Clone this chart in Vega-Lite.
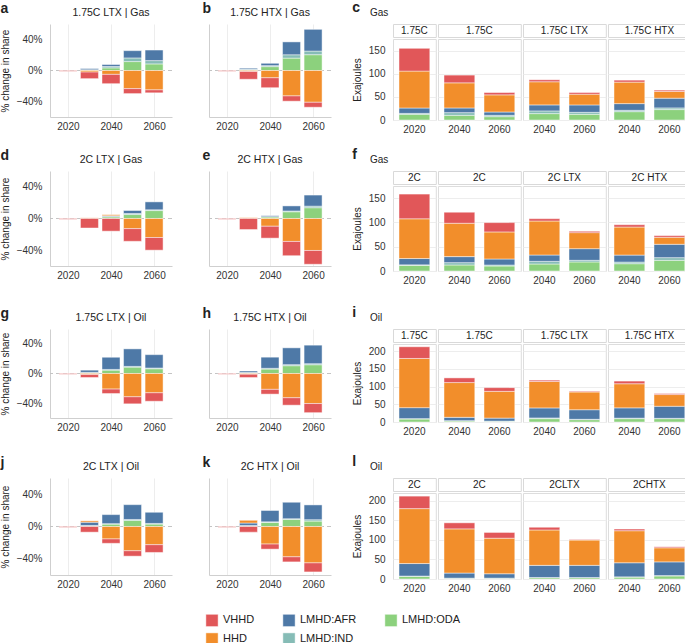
{
"$schema": "https://vega.github.io/schema/vega-lite/v6.json",
"padding": {"left": 0, "top": 0, "right": 0, "bottom": 0},
"config": {
  "font": "Liberation Sans",
  "view": {"stroke": null},
  "axis": {"labelFontSize": 10, "titleFontSize": 10, "titleFontWeight": "normal", "labelColor": "#333", "titleColor": "#222", "gridColor": "#ededed", "domainColor": "#cfcfcf", "ticks": false, "labelPadding": 4},
  "title": {"fontSize": 10.5, "fontWeight": "normal", "color": "#222"},
  "legend": {"orient": "none", "legendX": 155, "legendY": 589, "columns": 3, "symbolType": "square", "symbolSize": 150, "symbolStrokeWidth": 0, "labelFontSize": 11, "labelColor": "#222", "columnPadding": 25, "rowPadding": 1, "padding": 0, "title": null},
  "bar": {"stroke": "white", "strokeOpacity": 0.45, "strokeWidth": 1}
},
"datasets": {
"share": [
{"p":"a","yr":2020,"t":"VHHD","v":-1},
{"p":"a","yr":2030,"t":"LMHD:ODA","v":0.5},{"p":"a","yr":2030,"t":"LMHD:IND","v":0.5},{"p":"a","yr":2030,"t":"LMHD:AFR","v":1.5},{"p":"a","yr":2030,"t":"HHD","v":-2},{"p":"a","yr":2030,"t":"VHHD","v":-8.5},
{"p":"a","yr":2040,"t":"LMHD:ODA","v":3.4},{"p":"a","yr":2040,"t":"LMHD:IND","v":1.8},{"p":"a","yr":2040,"t":"LMHD:AFR","v":2.5},{"p":"a","yr":2040,"t":"HHD","v":-5},{"p":"a","yr":2040,"t":"VHHD","v":-12},
{"p":"a","yr":2050,"t":"LMHD:ODA","v":11.5},{"p":"a","yr":2050,"t":"LMHD:IND","v":4.7},{"p":"a","yr":2050,"t":"LMHD:AFR","v":9.4},{"p":"a","yr":2050,"t":"HHD","v":-23.4},{"p":"a","yr":2050,"t":"VHHD","v":-6.4},
{"p":"a","yr":2060,"t":"LMHD:ODA","v":8.5},{"p":"a","yr":2060,"t":"LMHD:IND","v":4.3},{"p":"a","yr":2060,"t":"LMHD:AFR","v":13.6},{"p":"a","yr":2060,"t":"HHD","v":-25},{"p":"a","yr":2060,"t":"VHHD","v":-3.8},
{"p":"b","yr":2020,"t":"VHHD","v":-1},
{"p":"b","yr":2030,"t":"LMHD:ODA","v":1},{"p":"b","yr":2030,"t":"LMHD:IND","v":0.5},{"p":"b","yr":2030,"t":"LMHD:AFR","v":1.5},{"p":"b","yr":2030,"t":"HHD","v":-1.3},{"p":"b","yr":2030,"t":"VHHD","v":-10},
{"p":"b","yr":2040,"t":"LMHD:ODA","v":5},{"p":"b","yr":2040,"t":"LMHD:IND","v":1.3},{"p":"b","yr":2040,"t":"LMHD:AFR","v":3},{"p":"b","yr":2040,"t":"HHD","v":-9.4},{"p":"b","yr":2040,"t":"VHHD","v":-12.8},
{"p":"b","yr":2050,"t":"LMHD:ODA","v":16},{"p":"b","yr":2050,"t":"LMHD:IND","v":4.3},{"p":"b","yr":2050,"t":"LMHD:AFR","v":16.6},{"p":"b","yr":2050,"t":"HHD","v":-32.8},{"p":"b","yr":2050,"t":"VHHD","v":-6.8},
{"p":"b","yr":2060,"t":"LMHD:ODA","v":20.4},{"p":"b","yr":2060,"t":"LMHD:IND","v":4.7},{"p":"b","yr":2060,"t":"LMHD:AFR","v":28},{"p":"b","yr":2060,"t":"HHD","v":-41},{"p":"b","yr":2060,"t":"VHHD","v":-6.4},
{"p":"d","yr":2020,"t":"VHHD","v":-1},
{"p":"d","yr":2030,"t":"HHD","v":0.8},{"p":"d","yr":2030,"t":"VHHD","v":-12},
{"p":"d","yr":2040,"t":"LMHD:ODA","v":2},{"p":"d","yr":2040,"t":"LMHD:IND","v":0.5},{"p":"d","yr":2040,"t":"LMHD:AFR","v":1},{"p":"d","yr":2040,"t":"HHD","v":1.3},{"p":"d","yr":2040,"t":"VHHD","v":-16},
{"p":"d","yr":2050,"t":"LMHD:ODA","v":5},{"p":"d","yr":2050,"t":"LMHD:IND","v":1.3},{"p":"d","yr":2050,"t":"LMHD:AFR","v":3.8},{"p":"d","yr":2050,"t":"HHD","v":-12.8},{"p":"d","yr":2050,"t":"VHHD","v":-16},
{"p":"d","yr":2060,"t":"LMHD:ODA","v":10},{"p":"d","yr":2060,"t":"LMHD:IND","v":1},{"p":"d","yr":2060,"t":"LMHD:AFR","v":10},{"p":"d","yr":2060,"t":"HHD","v":-24},{"p":"d","yr":2060,"t":"VHHD","v":-16},
{"p":"e","yr":2020,"t":"VHHD","v":-1},
{"p":"e","yr":2030,"t":"HHD","v":0.8},{"p":"e","yr":2030,"t":"VHHD","v":-14},
{"p":"e","yr":2040,"t":"LMHD:ODA","v":2},{"p":"e","yr":2040,"t":"LMHD:IND","v":0.3},{"p":"e","yr":2040,"t":"LMHD:AFR","v":1.2},{"p":"e","yr":2040,"t":"HHD","v":-9.8},{"p":"e","yr":2040,"t":"VHHD","v":-15},
{"p":"e","yr":2050,"t":"LMHD:ODA","v":8.5},{"p":"e","yr":2050,"t":"LMHD:IND","v":1},{"p":"e","yr":2050,"t":"LMHD:AFR","v":6.4},{"p":"e","yr":2050,"t":"HHD","v":-29},{"p":"e","yr":2050,"t":"VHHD","v":-18},
{"p":"e","yr":2060,"t":"LMHD:ODA","v":13.6},{"p":"e","yr":2060,"t":"LMHD:IND","v":2},{"p":"e","yr":2060,"t":"LMHD:AFR","v":14},{"p":"e","yr":2060,"t":"HHD","v":-40.4},{"p":"e","yr":2060,"t":"VHHD","v":-17.4},
{"p":"g","yr":2020,"t":"VHHD","v":-1},
{"p":"g","yr":2030,"t":"LMHD:ODA","v":1},{"p":"g","yr":2030,"t":"LMHD:IND","v":0.5},{"p":"g","yr":2030,"t":"LMHD:AFR","v":3},{"p":"g","yr":2030,"t":"HHD","v":-1.4},{"p":"g","yr":2030,"t":"VHHD","v":-4},
{"p":"g","yr":2040,"t":"LMHD:ODA","v":4.5},{"p":"g","yr":2040,"t":"LMHD:IND","v":1},{"p":"g","yr":2040,"t":"LMHD:AFR","v":16.4},{"p":"g","yr":2040,"t":"HHD","v":-21},{"p":"g","yr":2040,"t":"VHHD","v":-6},
{"p":"g","yr":2050,"t":"LMHD:ODA","v":8.6},{"p":"g","yr":2050,"t":"LMHD:IND","v":1},{"p":"g","yr":2050,"t":"LMHD:AFR","v":23.6},{"p":"g","yr":2050,"t":"HHD","v":-31.4},{"p":"g","yr":2050,"t":"VHHD","v":-9.5},
{"p":"g","yr":2060,"t":"LMHD:ODA","v":6.4},{"p":"g","yr":2060,"t":"LMHD:IND","v":1},{"p":"g","yr":2060,"t":"LMHD:AFR","v":18},{"p":"g","yr":2060,"t":"HHD","v":-26},{"p":"g","yr":2060,"t":"VHHD","v":-11.4},
{"p":"h","yr":2020,"t":"VHHD","v":-1},
{"p":"h","yr":2030,"t":"LMHD:ODA","v":1},{"p":"h","yr":2030,"t":"LMHD:IND","v":0.3},{"p":"h","yr":2030,"t":"LMHD:AFR","v":2},{"p":"h","yr":2030,"t":"HHD","v":-1},{"p":"h","yr":2030,"t":"VHHD","v":-4.5},
{"p":"h","yr":2040,"t":"LMHD:ODA","v":6},{"p":"h","yr":2040,"t":"LMHD:IND","v":1},{"p":"h","yr":2040,"t":"LMHD:AFR","v":15},{"p":"h","yr":2040,"t":"HHD","v":-21.4},{"p":"h","yr":2040,"t":"VHHD","v":-6.4},
{"p":"h","yr":2050,"t":"LMHD:ODA","v":10.5},{"p":"h","yr":2050,"t":"LMHD:IND","v":1.4},{"p":"h","yr":2050,"t":"LMHD:AFR","v":22.7},{"p":"h","yr":2050,"t":"HHD","v":-32.7},{"p":"h","yr":2050,"t":"VHHD","v":-10},
{"p":"h","yr":2060,"t":"LMHD:ODA","v":11.8},{"p":"h","yr":2060,"t":"LMHD:IND","v":1.4},{"p":"h","yr":2060,"t":"LMHD:AFR","v":25},{"p":"h","yr":2060,"t":"HHD","v":-40.5},{"p":"h","yr":2060,"t":"VHHD","v":-12.3},
{"p":"j","yr":2020,"t":"VHHD","v":-1},
{"p":"j","yr":2030,"t":"LMHD:ODA","v":1},{"p":"j","yr":2030,"t":"LMHD:IND","v":0.3},{"p":"j","yr":2030,"t":"LMHD:AFR","v":4},{"p":"j","yr":2030,"t":"HHD","v":1.7},{"p":"j","yr":2030,"t":"VHHD","v":-7},
{"p":"j","yr":2040,"t":"LMHD:ODA","v":3},{"p":"j","yr":2040,"t":"LMHD:IND","v":0.5},{"p":"j","yr":2040,"t":"LMHD:AFR","v":11.2},{"p":"j","yr":2040,"t":"HHD","v":-15.4},{"p":"j","yr":2040,"t":"VHHD","v":-5.4},
{"p":"j","yr":2050,"t":"LMHD:ODA","v":7.5},{"p":"j","yr":2050,"t":"LMHD:IND","v":1.2},{"p":"j","yr":2050,"t":"LMHD:AFR","v":18.3},{"p":"j","yr":2050,"t":"HHD","v":-30},{"p":"j","yr":2050,"t":"VHHD","v":-6.7},
{"p":"j","yr":2060,"t":"LMHD:ODA","v":3},{"p":"j","yr":2060,"t":"LMHD:IND","v":0.8},{"p":"j","yr":2060,"t":"LMHD:AFR","v":13.8},{"p":"j","yr":2060,"t":"HHD","v":-22.5},{"p":"j","yr":2060,"t":"VHHD","v":-9.6},
{"p":"k","yr":2020,"t":"VHHD","v":-1},
{"p":"k","yr":2030,"t":"LMHD:ODA","v":1},{"p":"k","yr":2030,"t":"LMHD:IND","v":0.3},{"p":"k","yr":2030,"t":"LMHD:AFR","v":3},{"p":"k","yr":2030,"t":"HHD","v":3.3},{"p":"k","yr":2030,"t":"VHHD","v":-7},
{"p":"k","yr":2040,"t":"LMHD:ODA","v":5},{"p":"k","yr":2040,"t":"LMHD:IND","v":0.8},{"p":"k","yr":2040,"t":"LMHD:AFR","v":14},{"p":"k","yr":2040,"t":"HHD","v":-21.7},{"p":"k","yr":2040,"t":"VHHD","v":-6.3},
{"p":"k","yr":2050,"t":"LMHD:ODA","v":8.8},{"p":"k","yr":2050,"t":"LMHD:IND","v":0.8},{"p":"k","yr":2050,"t":"LMHD:AFR","v":20.4},{"p":"k","yr":2050,"t":"HHD","v":-37.5},{"p":"k","yr":2050,"t":"VHHD","v":-6.3},
{"p":"k","yr":2060,"t":"LMHD:ODA","v":6.7},{"p":"k","yr":2060,"t":"LMHD:IND","v":1.7},{"p":"k","yr":2060,"t":"LMHD:AFR","v":18.3},{"p":"k","yr":2060,"t":"HHD","v":-45},{"p":"k","yr":2060,"t":"VHHD","v":-11.2}
],
"energy": [
{"p":"c","s":"1.75C_2020","yr":"2020","t":"LMHD:ODA","v":12.3},{"p":"c","s":"1.75C_2020","yr":"2020","t":"LMHD:IND","v":2},{"p":"c","s":"1.75C_2020","yr":"2020","t":"LMHD:AFR","v":11.6},{"p":"c","s":"1.75C_2020","yr":"2020","t":"HHD","v":79.7},{"p":"c","s":"1.75C_2020","yr":"2020","t":"VHHD","v":49.3},
{"p":"c","s":"1.75C","yr":"2040","t":"LMHD:ODA","v":10.1},{"p":"c","s":"1.75C","yr":"2040","t":"LMHD:IND","v":5.8},{"p":"c","s":"1.75C","yr":"2040","t":"LMHD:AFR","v":10.1},{"p":"c","s":"1.75C","yr":"2040","t":"HHD","v":54.3},{"p":"c","s":"1.75C","yr":"2040","t":"VHHD","v":16.7},
{"p":"c","s":"1.75C","yr":"2060","t":"LMHD:ODA","v":7.2},{"p":"c","s":"1.75C","yr":"2060","t":"LMHD:IND","v":2.9},{"p":"c","s":"1.75C","yr":"2060","t":"LMHD:AFR","v":7.2},{"p":"c","s":"1.75C","yr":"2060","t":"HHD","v":37},{"p":"c","s":"1.75C","yr":"2060","t":"VHHD","v":5},
{"p":"c","s":"1.75C LTX","yr":"2040","t":"LMHD:ODA","v":13.8},{"p":"c","s":"1.75C LTX","yr":"2040","t":"LMHD:IND","v":5.8},{"p":"c","s":"1.75C LTX","yr":"2040","t":"LMHD:AFR","v":13},{"p":"c","s":"1.75C LTX","yr":"2040","t":"HHD","v":50},{"p":"c","s":"1.75C LTX","yr":"2040","t":"VHHD","v":4.3},
{"p":"c","s":"1.75C LTX","yr":"2060","t":"LMHD:ODA","v":12.3},{"p":"c","s":"1.75C LTX","yr":"2060","t":"LMHD:IND","v":4.3},{"p":"c","s":"1.75C LTX","yr":"2060","t":"LMHD:AFR","v":16},{"p":"c","s":"1.75C LTX","yr":"2060","t":"HHD","v":23.2},{"p":"c","s":"1.75C LTX","yr":"2060","t":"VHHD","v":3.6},
{"p":"c","s":"1.75C HTX","yr":"2040","t":"LMHD:ODA","v":18},{"p":"c","s":"1.75C HTX","yr":"2040","t":"LMHD:IND","v":2.9},{"p":"c","s":"1.75C HTX","yr":"2040","t":"LMHD:AFR","v":14.5},{"p":"c","s":"1.75C HTX","yr":"2040","t":"HHD","v":46.4},{"p":"c","s":"1.75C HTX","yr":"2040","t":"VHHD","v":4.3},
{"p":"c","s":"1.75C HTX","yr":"2060","t":"LMHD:ODA","v":22.5},{"p":"c","s":"1.75C HTX","yr":"2060","t":"LMHD:IND","v":3.6},{"p":"c","s":"1.75C HTX","yr":"2060","t":"LMHD:AFR","v":21},{"p":"c","s":"1.75C HTX","yr":"2060","t":"HHD","v":14.5},{"p":"c","s":"1.75C HTX","yr":"2060","t":"VHHD","v":2.9},
{"p":"f","s":"2C_2020","yr":"2020","t":"LMHD:ODA","v":11.7},{"p":"f","s":"2C_2020","yr":"2020","t":"LMHD:IND","v":1},{"p":"f","s":"2C_2020","yr":"2020","t":"LMHD:AFR","v":13},{"p":"f","s":"2C_2020","yr":"2020","t":"HHD","v":81.8},{"p":"f","s":"2C_2020","yr":"2020","t":"VHHD","v":50.9},
{"p":"f","s":"2C","yr":"2040","t":"LMHD:ODA","v":12.4},{"p":"f","s":"2C","yr":"2040","t":"LMHD:IND","v":4.8},{"p":"f","s":"2C","yr":"2040","t":"LMHD:AFR","v":12.4},{"p":"f","s":"2C","yr":"2040","t":"HHD","v":68.7},{"p":"f","s":"2C","yr":"2040","t":"VHHD","v":22.7},
{"p":"f","s":"2C","yr":"2060","t":"LMHD:ODA","v":10.3},{"p":"f","s":"2C","yr":"2060","t":"LMHD:IND","v":2},{"p":"f","s":"2C","yr":"2060","t":"LMHD:AFR","v":12.4},{"p":"f","s":"2C","yr":"2060","t":"HHD","v":55.7},{"p":"f","s":"2C","yr":"2060","t":"VHHD","v":19.2},
{"p":"f","s":"2C LTX","yr":"2040","t":"LMHD:ODA","v":14.4},{"p":"f","s":"2C LTX","yr":"2040","t":"LMHD:IND","v":5.5},{"p":"f","s":"2C LTX","yr":"2040","t":"LMHD:AFR","v":13},{"p":"f","s":"2C LTX","yr":"2040","t":"HHD","v":70},{"p":"f","s":"2C LTX","yr":"2040","t":"VHHD","v":4.8},
{"p":"f","s":"2C LTX","yr":"2060","t":"LMHD:ODA","v":18.6},{"p":"f","s":"2C LTX","yr":"2060","t":"LMHD:IND","v":3.4},{"p":"f","s":"2C LTX","yr":"2060","t":"LMHD:AFR","v":24},{"p":"f","s":"2C LTX","yr":"2060","t":"HHD","v":33},{"p":"f","s":"2C LTX","yr":"2060","t":"VHHD","v":2.7},
{"p":"f","s":"2C HTX","yr":"2040","t":"LMHD:ODA","v":15},{"p":"f","s":"2C HTX","yr":"2040","t":"LMHD:IND","v":3.4},{"p":"f","s":"2C HTX","yr":"2040","t":"LMHD:AFR","v":14.4},{"p":"f","s":"2C HTX","yr":"2040","t":"HHD","v":57.7},{"p":"f","s":"2C HTX","yr":"2040","t":"VHHD","v":4.8},
{"p":"f","s":"2C HTX","yr":"2060","t":"LMHD:ODA","v":22},{"p":"f","s":"2C HTX","yr":"2060","t":"LMHD:IND","v":5.5},{"p":"f","s":"2C HTX","yr":"2060","t":"LMHD:AFR","v":27.5},{"p":"f","s":"2C HTX","yr":"2060","t":"HHD","v":14.4},{"p":"f","s":"2C HTX","yr":"2060","t":"VHHD","v":3.4},
{"p":"i","s":"1.75C_2020","yr":"2020","t":"LMHD:ODA","v":8.5},{"p":"i","s":"1.75C_2020","yr":"2020","t":"LMHD:IND","v":1},{"p":"i","s":"1.75C_2020","yr":"2020","t":"LMHD:AFR","v":31},{"p":"i","s":"1.75C_2020","yr":"2020","t":"HHD","v":138.7},{"p":"i","s":"1.75C_2020","yr":"2020","t":"VHHD","v":33},
{"p":"i","s":"1.75C","yr":"2040","t":"LMHD:ODA","v":2.8},{"p":"i","s":"1.75C","yr":"2040","t":"LMHD:IND","v":1},{"p":"i","s":"1.75C","yr":"2040","t":"LMHD:AFR","v":9.4},{"p":"i","s":"1.75C","yr":"2040","t":"HHD","v":98},{"p":"i","s":"1.75C","yr":"2040","t":"VHHD","v":13.2},
{"p":"i","s":"1.75C","yr":"2060","t":"LMHD:ODA","v":2},{"p":"i","s":"1.75C","yr":"2060","t":"LMHD:IND","v":0.5},{"p":"i","s":"1.75C","yr":"2060","t":"LMHD:AFR","v":8.5},{"p":"i","s":"1.75C","yr":"2060","t":"HHD","v":75.5},{"p":"i","s":"1.75C","yr":"2060","t":"VHHD","v":10.4},
{"p":"i","s":"1.75C LTX","yr":"2040","t":"LMHD:ODA","v":9.4},{"p":"i","s":"1.75C LTX","yr":"2040","t":"LMHD:IND","v":2},{"p":"i","s":"1.75C LTX","yr":"2040","t":"LMHD:AFR","v":28.3},{"p":"i","s":"1.75C LTX","yr":"2040","t":"HHD","v":74.5},{"p":"i","s":"1.75C LTX","yr":"2040","t":"VHHD","v":3.8},
{"p":"i","s":"1.75C LTX","yr":"2060","t":"LMHD:ODA","v":6.6},{"p":"i","s":"1.75C LTX","yr":"2060","t":"LMHD:IND","v":1},{"p":"i","s":"1.75C LTX","yr":"2060","t":"LMHD:AFR","v":27},{"p":"i","s":"1.75C LTX","yr":"2060","t":"HHD","v":50},{"p":"i","s":"1.75C LTX","yr":"2060","t":"VHHD","v":1.9},
{"p":"i","s":"1.75C HTX","yr":"2040","t":"LMHD:ODA","v":9.4},{"p":"i","s":"1.75C HTX","yr":"2040","t":"LMHD:IND","v":1.5},{"p":"i","s":"1.75C HTX","yr":"2040","t":"LMHD:AFR","v":29},{"p":"i","s":"1.75C HTX","yr":"2040","t":"HHD","v":68},{"p":"i","s":"1.75C HTX","yr":"2040","t":"VHHD","v":7.5},
{"p":"i","s":"1.75C HTX","yr":"2060","t":"LMHD:ODA","v":9.4},{"p":"i","s":"1.75C HTX","yr":"2060","t":"LMHD:IND","v":1},{"p":"i","s":"1.75C HTX","yr":"2060","t":"LMHD:AFR","v":34},{"p":"i","s":"1.75C HTX","yr":"2060","t":"HHD","v":33},{"p":"i","s":"1.75C HTX","yr":"2060","t":"VHHD","v":2.8},
{"p":"l","s":"2C_2020","yr":"2020","t":"LMHD:ODA","v":7},{"p":"l","s":"2C_2020","yr":"2020","t":"LMHD:IND","v":0.5},{"p":"l","s":"2C_2020","yr":"2020","t":"LMHD:AFR","v":32},{"p":"l","s":"2C_2020","yr":"2020","t":"HHD","v":140.5},{"p":"l","s":"2C_2020","yr":"2020","t":"VHHD","v":32},
{"p":"l","s":"2C","yr":"2040","t":"LMHD:ODA","v":1.7},{"p":"l","s":"2C","yr":"2040","t":"LMHD:IND","v":0.5},{"p":"l","s":"2C","yr":"2040","t":"LMHD:AFR","v":13},{"p":"l","s":"2C","yr":"2040","t":"HHD","v":113},{"p":"l","s":"2C","yr":"2040","t":"VHHD","v":15.5},
{"p":"l","s":"2C","yr":"2060","t":"LMHD:ODA","v":1.7},{"p":"l","s":"2C","yr":"2060","t":"LMHD:IND","v":0.5},{"p":"l","s":"2C","yr":"2060","t":"LMHD:AFR","v":11.2},{"p":"l","s":"2C","yr":"2060","t":"HHD","v":91},{"p":"l","s":"2C","yr":"2060","t":"VHHD","v":14.7},
{"p":"l","s":"2CLTX","yr":"2040","t":"LMHD:ODA","v":3.4},{"p":"l","s":"2CLTX","yr":"2040","t":"LMHD:IND","v":0.5},{"p":"l","s":"2CLTX","yr":"2040","t":"LMHD:AFR","v":31},{"p":"l","s":"2CLTX","yr":"2040","t":"HHD","v":90.5},{"p":"l","s":"2CLTX","yr":"2040","t":"VHHD","v":7},
{"p":"l","s":"2CLTX","yr":"2060","t":"LMHD:ODA","v":3.4},{"p":"l","s":"2CLTX","yr":"2060","t":"LMHD:IND","v":0.5},{"p":"l","s":"2CLTX","yr":"2060","t":"LMHD:AFR","v":31},{"p":"l","s":"2CLTX","yr":"2060","t":"HHD","v":64.7},{"p":"l","s":"2CLTX","yr":"2060","t":"VHHD","v":1.7},
{"p":"l","s":"2CHTX","yr":"2040","t":"LMHD:ODA","v":5},{"p":"l","s":"2CHTX","yr":"2040","t":"LMHD:IND","v":0.5},{"p":"l","s":"2CHTX","yr":"2040","t":"LMHD:AFR","v":36},{"p":"l","s":"2CHTX","yr":"2040","t":"HHD","v":82},{"p":"l","s":"2CHTX","yr":"2040","t":"VHHD","v":4.3},
{"p":"l","s":"2CHTX","yr":"2060","t":"LMHD:ODA","v":7.8},{"p":"l","s":"2CHTX","yr":"2060","t":"LMHD:IND","v":1},{"p":"l","s":"2CHTX","yr":"2060","t":"LMHD:AFR","v":35},{"p":"l","s":"2CHTX","yr":"2060","t":"HHD","v":36},{"p":"l","s":"2CHTX","yr":"2060","t":"VHHD","v":2.6}
]
},
"spacing": 19,
"resolve": {"scale": {"color": "shared"}},
"vconcat": [
{"spacing": 12, "vconcat": [
{"spacing": 20, "hconcat": [
 {"spacing": 29, "hconcat": [
 {"data": {"name": "share"}, "transform": [{"filter": "datum.p == 'a'"}, {"calculate": "indexof(['LMHD:ODA','LMHD:IND','LMHD:AFR','HHD','VHHD'], datum.t)", "as": "o"}],
  "width": 122, "height": 93, "title": {"text": "1.75C LTX | Gas", "frame": "group", "anchor": "middle", "offset": -17},
  "layer": [
   {"mark": {"type": "rule", "strokeDash": [4, 3], "color": "#c4c4c4"}, "encoding": {"y": {"datum": 0}}},
   {"mark": {"type": "bar", "size": 18}, "encoding": {
     "x": {"field": "yr", "type": "quantitative", "scale": {"domain": [2014, 2066], "nice": false, "zero": false}, "axis": {"values": [2020, 2040, 2060], "format": "d", "title": "a", "titleX": -50, "titleY": -105, "titleAlign": "left", "titleBaseline": "alphabetic", "titleAngle": 0, "titleFontSize": 14, "titleFontWeight": "bold"}},
     "y": {"field": "v", "type": "quantitative", "stack": "zero", "scale": {"domain": [-60, 60], "nice": false}, "axis": {"values": [-40, -20, 0, 20, 40], "labelExpr": "datum.value < 0 ? '−' + abs(datum.value) + '%' : datum.value + '%'", "title": "% change in share", "labelPadding": 8, "titlePadding": 6}},
     "color": {"field": "t", "type": "nominal", "scale": {"domain": ["VHHD", "HHD", "LMHD:AFR", "LMHD:IND", "LMHD:ODA"], "range": ["#E15759", "#F28E2B", "#4E79A7", "#86BCB6", "#8CD17D"]}, "legend": {"title": null}},
     "order": {"field": "o", "type": "quantitative"}}}
  ]},
 {"data": {"name": "share"}, "transform": [{"filter": "datum.p == 'b'"}, {"calculate": "indexof(['LMHD:ODA','LMHD:IND','LMHD:AFR','HHD','VHHD'], datum.t)", "as": "o"}],
  "width": 122, "height": 93, "title": {"text": "1.75C HTX | Gas", "frame": "group", "anchor": "middle", "offset": -17},
  "layer": [
   {"mark": {"type": "rule", "strokeDash": [4, 3], "color": "#c4c4c4"}, "encoding": {"y": {"datum": 0}}},
   {"mark": {"type": "bar", "size": 18}, "encoding": {
     "x": {"field": "yr", "type": "quantitative", "scale": {"domain": [2014, 2066], "nice": false, "zero": false}, "axis": {"values": [2020, 2040, 2060], "format": "d", "title": "b", "titleX": -7, "titleY": -105, "titleAlign": "left", "titleBaseline": "alphabetic", "titleAngle": 0, "titleFontSize": 14, "titleFontWeight": "bold"}},
     "y": {"field": "v", "type": "quantitative", "stack": "zero", "scale": {"domain": [-60, 60], "nice": false}, "axis": {"values": [-40, -20, 0, 20, 40], "labels": false, "title": null}},
     "color": {"field": "t", "type": "nominal", "scale": {"domain": ["VHHD", "HHD", "LMHD:AFR", "LMHD:IND", "LMHD:ODA"], "range": ["#E15759", "#F28E2B", "#4E79A7", "#86BCB6", "#8CD17D"]}, "legend": {"title": null}},
     "order": {"field": "o", "type": "quantitative"}}}
  ]}
 ]},
 {"title": {"text": "c", "anchor": "start", "frame": "bounds", "fontSize": 14, "fontWeight": "bold", "offset": -7},
  "spacing": 0,
  "vconcat": [
  {"spacing": 0, "hconcat": [
   {"data": {"values": [{"s": "1.75C"}]}, "width": 42.8, "height": 13, "view": {"stroke": "#d9d9d9"}, "title": {"text": "Gas", "anchor": "start", "frame": "group", "dx": -23, "offset": 6, "fontSize": 10}, "mark": {"type": "text", "fontSize": 10, "color": "#222"}, "encoding": {"x": {"field": "s", "type": "nominal", "axis": null}, "text": {"field": "s"}}},
   {"data": {"values": [{"s": "1.75C"}]}, "width": 82.8, "height": 13, "view": {"stroke": "#d9d9d9"}, "mark": {"type": "text", "fontSize": 10, "color": "#222"}, "encoding": {"x": {"field": "s", "type": "nominal", "axis": null}, "text": {"field": "s"}}},
   {"data": {"values": [{"s": "1.75C LTX"}]}, "width": 82.8, "height": 13, "view": {"stroke": "#d9d9d9"}, "mark": {"type": "text", "fontSize": 10, "color": "#222"}, "encoding": {"x": {"field": "s", "type": "nominal", "axis": null}, "text": {"field": "s"}}},
   {"data": {"values": [{"s": "1.75C HTX"}]}, "width": 82.8, "height": 13, "view": {"stroke": "#d9d9d9"}, "mark": {"type": "text", "fontSize": 10, "color": "#222"}, "encoding": {"x": {"field": "s", "type": "nominal", "axis": null}, "text": {"field": "s"}}}
  ]},
  {"data": {"name": "energy"}, "transform": [{"filter": "datum.p == 'c'"}, {"calculate": "indexof(['LMHD:ODA','LMHD:IND','LMHD:AFR','HHD','VHHD'], datum.t)", "as": "o"}],
   "facet": {"column": {"field": "s", "type": "nominal", "title": null, "sort": ["1.75C_2020", "1.75C", "1.75C LTX", "1.75C HTX"], "header": {"labels": false}}},
   "spacing": {"column": 0},
   "resolve": {"scale": {"x": "independent"}},
   "spec": {"width": {"step": 40}, "height": 81, "view": {"stroke": "#dddddd"},
    "mark": {"type": "bar"},
    "encoding": {
     "x": {"field": "yr", "type": "nominal", "scale": {"paddingInner": 0.23, "paddingOuter": 0.15}, "axis": {"title": null, "labelAngle": 0, "domain": false, "grid": false}},
     "y": {"field": "v", "type": "quantitative", "stack": "zero", "scale": {"domain": [0, 175], "nice": false}, "axis": {"values": [0, 50, 100, 150], "title": "Exajoules", "domain": false, "labelPadding": 7, "titlePadding": 6}},
     "color": {"field": "t", "type": "nominal", "scale": {"domain": ["VHHD", "HHD", "LMHD:AFR", "LMHD:IND", "LMHD:ODA"], "range": ["#E15759", "#F28E2B", "#4E79A7", "#86BCB6", "#8CD17D"]}, "legend": {"title": null}},
     "order": {"field": "o", "type": "quantitative"}}}}
 ]}
]},
{"spacing": 20, "hconcat": [
 {"spacing": 29, "hconcat": [
 {"data": {"name": "share"}, "transform": [{"filter": "datum.p == 'd'"}, {"calculate": "indexof(['LMHD:ODA','LMHD:IND','LMHD:AFR','HHD','VHHD'], datum.t)", "as": "o"}],
  "width": 122, "height": 95, "title": {"text": "2C LTX | Gas", "frame": "group", "anchor": "middle", "offset": -17},
  "layer": [
   {"mark": {"type": "rule", "strokeDash": [4, 3], "color": "#c4c4c4"}, "encoding": {"y": {"datum": 0}}},
   {"mark": {"type": "bar", "size": 18}, "encoding": {
     "x": {"field": "yr", "type": "quantitative", "scale": {"domain": [2014, 2066], "nice": false, "zero": false}, "axis": {"values": [2020, 2040, 2060], "format": "d", "title": "d", "titleX": -50, "titleY": -107, "titleAlign": "left", "titleBaseline": "alphabetic", "titleAngle": 0, "titleFontSize": 14, "titleFontWeight": "bold"}},
     "y": {"field": "v", "type": "quantitative", "stack": "zero", "scale": {"domain": [-60, 60], "nice": false}, "axis": {"values": [-40, -20, 0, 20, 40], "labelExpr": "datum.value < 0 ? '−' + abs(datum.value) + '%' : datum.value + '%'", "title": "% change in share", "labelPadding": 8, "titlePadding": 6}},
     "color": {"field": "t", "type": "nominal", "scale": {"domain": ["VHHD", "HHD", "LMHD:AFR", "LMHD:IND", "LMHD:ODA"], "range": ["#E15759", "#F28E2B", "#4E79A7", "#86BCB6", "#8CD17D"]}, "legend": {"title": null}},
     "order": {"field": "o", "type": "quantitative"}}}
  ]},
 {"data": {"name": "share"}, "transform": [{"filter": "datum.p == 'e'"}, {"calculate": "indexof(['LMHD:ODA','LMHD:IND','LMHD:AFR','HHD','VHHD'], datum.t)", "as": "o"}],
  "width": 122, "height": 95, "title": {"text": "2C HTX | Gas", "frame": "group", "anchor": "middle", "offset": -17},
  "layer": [
   {"mark": {"type": "rule", "strokeDash": [4, 3], "color": "#c4c4c4"}, "encoding": {"y": {"datum": 0}}},
   {"mark": {"type": "bar", "size": 18}, "encoding": {
     "x": {"field": "yr", "type": "quantitative", "scale": {"domain": [2014, 2066], "nice": false, "zero": false}, "axis": {"values": [2020, 2040, 2060], "format": "d", "title": "e", "titleX": -7, "titleY": -107, "titleAlign": "left", "titleBaseline": "alphabetic", "titleAngle": 0, "titleFontSize": 14, "titleFontWeight": "bold"}},
     "y": {"field": "v", "type": "quantitative", "stack": "zero", "scale": {"domain": [-60, 60], "nice": false}, "axis": {"values": [-40, -20, 0, 20, 40], "labels": false, "title": null}},
     "color": {"field": "t", "type": "nominal", "scale": {"domain": ["VHHD", "HHD", "LMHD:AFR", "LMHD:IND", "LMHD:ODA"], "range": ["#E15759", "#F28E2B", "#4E79A7", "#86BCB6", "#8CD17D"]}, "legend": {"title": null}},
     "order": {"field": "o", "type": "quantitative"}}}
  ]}
 ]},
 {"title": {"text": "f", "anchor": "start", "frame": "bounds", "fontSize": 14, "fontWeight": "bold", "offset": -7},
  "spacing": 0,
  "vconcat": [
  {"spacing": 0, "hconcat": [
   {"data": {"values": [{"s": "2C"}]}, "width": 42.8, "height": 13, "view": {"stroke": "#d9d9d9"}, "title": {"text": "Gas", "anchor": "start", "frame": "group", "dx": -23, "offset": 6, "fontSize": 10}, "mark": {"type": "text", "fontSize": 10, "color": "#222"}, "encoding": {"x": {"field": "s", "type": "nominal", "axis": null}, "text": {"field": "s"}}},
   {"data": {"values": [{"s": "2C"}]}, "width": 82.8, "height": 13, "view": {"stroke": "#d9d9d9"}, "mark": {"type": "text", "fontSize": 10, "color": "#222"}, "encoding": {"x": {"field": "s", "type": "nominal", "axis": null}, "text": {"field": "s"}}},
   {"data": {"values": [{"s": "2C LTX"}]}, "width": 82.8, "height": 13, "view": {"stroke": "#d9d9d9"}, "mark": {"type": "text", "fontSize": 10, "color": "#222"}, "encoding": {"x": {"field": "s", "type": "nominal", "axis": null}, "text": {"field": "s"}}},
   {"data": {"values": [{"s": "2C HTX"}]}, "width": 82.8, "height": 13, "view": {"stroke": "#d9d9d9"}, "mark": {"type": "text", "fontSize": 10, "color": "#222"}, "encoding": {"x": {"field": "s", "type": "nominal", "axis": null}, "text": {"field": "s"}}}
  ]},
  {"data": {"name": "energy"}, "transform": [{"filter": "datum.p == 'f'"}, {"calculate": "indexof(['LMHD:ODA','LMHD:IND','LMHD:AFR','HHD','VHHD'], datum.t)", "as": "o"}],
   "facet": {"column": {"field": "s", "type": "nominal", "title": null, "sort": ["2C_2020", "2C", "2C LTX", "2C HTX"], "header": {"labels": false}}},
   "spacing": {"column": 0},
   "resolve": {"scale": {"x": "independent"}},
   "spec": {"width": {"step": 40}, "height": 85, "view": {"stroke": "#dddddd"},
    "mark": {"type": "bar"},
    "encoding": {
     "x": {"field": "yr", "type": "nominal", "scale": {"paddingInner": 0.23, "paddingOuter": 0.15}, "axis": {"title": null, "labelAngle": 0, "domain": false, "grid": false}},
     "y": {"field": "v", "type": "quantitative", "stack": "zero", "scale": {"domain": [0, 175], "nice": false}, "axis": {"values": [0, 50, 100, 150], "title": "Exajoules", "domain": false, "labelPadding": 7, "titlePadding": 6}},
     "color": {"field": "t", "type": "nominal", "scale": {"domain": ["VHHD", "HHD", "LMHD:AFR", "LMHD:IND", "LMHD:ODA"], "range": ["#E15759", "#F28E2B", "#4E79A7", "#86BCB6", "#8CD17D"]}, "legend": {"title": null}},
     "order": {"field": "o", "type": "quantitative"}}}}
 ]}
]}
]},
{"spacing": 17, "vconcat": [
{"spacing": 20, "hconcat": [
 {"spacing": 29, "hconcat": [
 {"data": {"name": "share"}, "transform": [{"filter": "datum.p == 'g'"}, {"calculate": "indexof(['LMHD:ODA','LMHD:IND','LMHD:AFR','HHD','VHHD'], datum.t)", "as": "o"}],
  "width": 122, "height": 89, "title": {"text": "1.75C LTX | Oil", "frame": "group", "anchor": "middle", "offset": -17},
  "layer": [
   {"mark": {"type": "rule", "strokeDash": [4, 3], "color": "#c4c4c4"}, "encoding": {"y": {"datum": 0}}},
   {"mark": {"type": "bar", "size": 18}, "encoding": {
     "x": {"field": "yr", "type": "quantitative", "scale": {"domain": [2014, 2066], "nice": false, "zero": false}, "axis": {"values": [2020, 2040, 2060], "format": "d", "title": "g", "titleX": -50, "titleY": -101, "titleAlign": "left", "titleBaseline": "alphabetic", "titleAngle": 0, "titleFontSize": 14, "titleFontWeight": "bold"}},
     "y": {"field": "v", "type": "quantitative", "stack": "zero", "scale": {"domain": [-60, 60], "nice": false}, "axis": {"values": [-40, -20, 0, 20, 40], "labelExpr": "datum.value < 0 ? '−' + abs(datum.value) + '%' : datum.value + '%'", "title": "% change in share", "labelPadding": 8, "titlePadding": 6}},
     "color": {"field": "t", "type": "nominal", "scale": {"domain": ["VHHD", "HHD", "LMHD:AFR", "LMHD:IND", "LMHD:ODA"], "range": ["#E15759", "#F28E2B", "#4E79A7", "#86BCB6", "#8CD17D"]}, "legend": {"title": null}},
     "order": {"field": "o", "type": "quantitative"}}}
  ]},
 {"data": {"name": "share"}, "transform": [{"filter": "datum.p == 'h'"}, {"calculate": "indexof(['LMHD:ODA','LMHD:IND','LMHD:AFR','HHD','VHHD'], datum.t)", "as": "o"}],
  "width": 122, "height": 89, "title": {"text": "1.75C HTX | Oil", "frame": "group", "anchor": "middle", "offset": -17},
  "layer": [
   {"mark": {"type": "rule", "strokeDash": [4, 3], "color": "#c4c4c4"}, "encoding": {"y": {"datum": 0}}},
   {"mark": {"type": "bar", "size": 18}, "encoding": {
     "x": {"field": "yr", "type": "quantitative", "scale": {"domain": [2014, 2066], "nice": false, "zero": false}, "axis": {"values": [2020, 2040, 2060], "format": "d", "title": "h", "titleX": -7, "titleY": -101, "titleAlign": "left", "titleBaseline": "alphabetic", "titleAngle": 0, "titleFontSize": 14, "titleFontWeight": "bold"}},
     "y": {"field": "v", "type": "quantitative", "stack": "zero", "scale": {"domain": [-60, 60], "nice": false}, "axis": {"values": [-40, -20, 0, 20, 40], "labels": false, "title": null}},
     "color": {"field": "t", "type": "nominal", "scale": {"domain": ["VHHD", "HHD", "LMHD:AFR", "LMHD:IND", "LMHD:ODA"], "range": ["#E15759", "#F28E2B", "#4E79A7", "#86BCB6", "#8CD17D"]}, "legend": {"title": null}},
     "order": {"field": "o", "type": "quantitative"}}}
  ]}
 ]},
 {"title": {"text": "i", "anchor": "start", "frame": "bounds", "fontSize": 14, "fontWeight": "bold", "offset": -7},
  "spacing": 0,
  "vconcat": [
  {"spacing": 0, "hconcat": [
   {"data": {"values": [{"s": "1.75C"}]}, "width": 42.8, "height": 13, "view": {"stroke": "#d9d9d9"}, "title": {"text": "Oil", "anchor": "start", "frame": "group", "dx": -23, "offset": 6, "fontSize": 10}, "mark": {"type": "text", "fontSize": 10, "color": "#222"}, "encoding": {"x": {"field": "s", "type": "nominal", "axis": null}, "text": {"field": "s"}}},
   {"data": {"values": [{"s": "1.75C"}]}, "width": 82.8, "height": 13, "view": {"stroke": "#d9d9d9"}, "mark": {"type": "text", "fontSize": 10, "color": "#222"}, "encoding": {"x": {"field": "s", "type": "nominal", "axis": null}, "text": {"field": "s"}}},
   {"data": {"values": [{"s": "1.75C LTX"}]}, "width": 82.8, "height": 13, "view": {"stroke": "#d9d9d9"}, "mark": {"type": "text", "fontSize": 10, "color": "#222"}, "encoding": {"x": {"field": "s", "type": "nominal", "axis": null}, "text": {"field": "s"}}},
   {"data": {"values": [{"s": "1.75C HTX"}]}, "width": 82.8, "height": 13, "view": {"stroke": "#d9d9d9"}, "mark": {"type": "text", "fontSize": 10, "color": "#222"}, "encoding": {"x": {"field": "s", "type": "nominal", "axis": null}, "text": {"field": "s"}}}
  ]},
  {"data": {"name": "energy"}, "transform": [{"filter": "datum.p == 'i'"}, {"calculate": "indexof(['LMHD:ODA','LMHD:IND','LMHD:AFR','HHD','VHHD'], datum.t)", "as": "o"}],
   "facet": {"column": {"field": "s", "type": "nominal", "title": null, "sort": ["1.75C_2020", "1.75C", "1.75C LTX", "1.75C HTX"], "header": {"labels": false}}},
   "spacing": {"column": 0},
   "resolve": {"scale": {"x": "independent"}},
   "spec": {"width": {"step": 40}, "height": 78, "view": {"stroke": "#dddddd"},
    "mark": {"type": "bar"},
    "encoding": {
     "x": {"field": "yr", "type": "nominal", "scale": {"paddingInner": 0.23, "paddingOuter": 0.15}, "axis": {"title": null, "labelAngle": 0, "domain": false, "grid": false}},
     "y": {"field": "v", "type": "quantitative", "stack": "zero", "scale": {"domain": [0, 220], "nice": false}, "axis": {"values": [0, 50, 100, 150, 200], "title": "Exajoules", "domain": false, "labelPadding": 7, "titlePadding": 6}},
     "color": {"field": "t", "type": "nominal", "scale": {"domain": ["VHHD", "HHD", "LMHD:AFR", "LMHD:IND", "LMHD:ODA"], "range": ["#E15759", "#F28E2B", "#4E79A7", "#86BCB6", "#8CD17D"]}, "legend": {"title": null}},
     "order": {"field": "o", "type": "quantitative"}}}}
 ]}
]},
{"spacing": 20, "hconcat": [
 {"spacing": 29, "hconcat": [
 {"data": {"name": "share"}, "transform": [{"filter": "datum.p == 'j'"}, {"calculate": "indexof(['LMHD:ODA','LMHD:IND','LMHD:AFR','HHD','VHHD'], datum.t)", "as": "o"}],
  "width": 122, "height": 97, "title": {"text": "2C LTX | Oil", "frame": "group", "anchor": "middle", "offset": -17},
  "layer": [
   {"mark": {"type": "rule", "strokeDash": [4, 3], "color": "#c4c4c4"}, "encoding": {"y": {"datum": 0}}},
   {"mark": {"type": "bar", "size": 18}, "encoding": {
     "x": {"field": "yr", "type": "quantitative", "scale": {"domain": [2014, 2066], "nice": false, "zero": false}, "axis": {"values": [2020, 2040, 2060], "format": "d", "title": "j", "titleX": -50, "titleY": -109, "titleAlign": "left", "titleBaseline": "alphabetic", "titleAngle": 0, "titleFontSize": 14, "titleFontWeight": "bold"}},
     "y": {"field": "v", "type": "quantitative", "stack": "zero", "scale": {"domain": [-60, 60], "nice": false}, "axis": {"values": [-40, -20, 0, 20, 40], "labelExpr": "datum.value < 0 ? '−' + abs(datum.value) + '%' : datum.value + '%'", "title": "% change in share", "labelPadding": 8, "titlePadding": 6}},
     "color": {"field": "t", "type": "nominal", "scale": {"domain": ["VHHD", "HHD", "LMHD:AFR", "LMHD:IND", "LMHD:ODA"], "range": ["#E15759", "#F28E2B", "#4E79A7", "#86BCB6", "#8CD17D"]}, "legend": {"title": null}},
     "order": {"field": "o", "type": "quantitative"}}}
  ]},
 {"data": {"name": "share"}, "transform": [{"filter": "datum.p == 'k'"}, {"calculate": "indexof(['LMHD:ODA','LMHD:IND','LMHD:AFR','HHD','VHHD'], datum.t)", "as": "o"}],
  "width": 122, "height": 97, "title": {"text": "2C HTX | Oil", "frame": "group", "anchor": "middle", "offset": -17},
  "layer": [
   {"mark": {"type": "rule", "strokeDash": [4, 3], "color": "#c4c4c4"}, "encoding": {"y": {"datum": 0}}},
   {"mark": {"type": "bar", "size": 18}, "encoding": {
     "x": {"field": "yr", "type": "quantitative", "scale": {"domain": [2014, 2066], "nice": false, "zero": false}, "axis": {"values": [2020, 2040, 2060], "format": "d", "title": "k", "titleX": -7, "titleY": -109, "titleAlign": "left", "titleBaseline": "alphabetic", "titleAngle": 0, "titleFontSize": 14, "titleFontWeight": "bold"}},
     "y": {"field": "v", "type": "quantitative", "stack": "zero", "scale": {"domain": [-60, 60], "nice": false}, "axis": {"values": [-40, -20, 0, 20, 40], "labels": false, "title": null}},
     "color": {"field": "t", "type": "nominal", "scale": {"domain": ["VHHD", "HHD", "LMHD:AFR", "LMHD:IND", "LMHD:ODA"], "range": ["#E15759", "#F28E2B", "#4E79A7", "#86BCB6", "#8CD17D"]}, "legend": {"title": null}},
     "order": {"field": "o", "type": "quantitative"}}}
  ]}
 ]},
 {"title": {"text": "l", "anchor": "start", "frame": "bounds", "fontSize": 14, "fontWeight": "bold", "offset": -7},
  "spacing": 0,
  "vconcat": [
  {"spacing": 0, "hconcat": [
   {"data": {"values": [{"s": "2C"}]}, "width": 42.8, "height": 13, "view": {"stroke": "#d9d9d9"}, "title": {"text": "Oil", "anchor": "start", "frame": "group", "dx": -23, "offset": 6, "fontSize": 10}, "mark": {"type": "text", "fontSize": 10, "color": "#222"}, "encoding": {"x": {"field": "s", "type": "nominal", "axis": null}, "text": {"field": "s"}}},
   {"data": {"values": [{"s": "2C"}]}, "width": 82.8, "height": 13, "view": {"stroke": "#d9d9d9"}, "mark": {"type": "text", "fontSize": 10, "color": "#222"}, "encoding": {"x": {"field": "s", "type": "nominal", "axis": null}, "text": {"field": "s"}}},
   {"data": {"values": [{"s": "2CLTX"}]}, "width": 82.8, "height": 13, "view": {"stroke": "#d9d9d9"}, "mark": {"type": "text", "fontSize": 10, "color": "#222"}, "encoding": {"x": {"field": "s", "type": "nominal", "axis": null}, "text": {"field": "s"}}},
   {"data": {"values": [{"s": "2CHTX"}]}, "width": 82.8, "height": 13, "view": {"stroke": "#d9d9d9"}, "mark": {"type": "text", "fontSize": 10, "color": "#222"}, "encoding": {"x": {"field": "s", "type": "nominal", "axis": null}, "text": {"field": "s"}}}
  ]},
  {"data": {"name": "energy"}, "transform": [{"filter": "datum.p == 'l'"}, {"calculate": "indexof(['LMHD:ODA','LMHD:IND','LMHD:AFR','HHD','VHHD'], datum.t)", "as": "o"}],
   "facet": {"column": {"field": "s", "type": "nominal", "title": null, "sort": ["2C_2020", "2C", "2CLTX", "2CHTX"], "header": {"labels": false}}},
   "spacing": {"column": 0},
   "resolve": {"scale": {"x": "independent"}},
   "spec": {"width": {"step": 40}, "height": 86, "view": {"stroke": "#dddddd"},
    "mark": {"type": "bar"},
    "encoding": {
     "x": {"field": "yr", "type": "nominal", "scale": {"paddingInner": 0.23, "paddingOuter": 0.15}, "axis": {"title": null, "labelAngle": 0, "domain": false, "grid": false}},
     "y": {"field": "v", "type": "quantitative", "stack": "zero", "scale": {"domain": [0, 220], "nice": false}, "axis": {"values": [0, 50, 100, 150, 200], "title": "Exajoules", "domain": false, "labelPadding": 7, "titlePadding": 6}},
     "color": {"field": "t", "type": "nominal", "scale": {"domain": ["VHHD", "HHD", "LMHD:AFR", "LMHD:IND", "LMHD:ODA"], "range": ["#E15759", "#F28E2B", "#4E79A7", "#86BCB6", "#8CD17D"]}, "legend": {"title": null}},
     "order": {"field": "o", "type": "quantitative"}}}}
 ]}
]}
]}
]
}
